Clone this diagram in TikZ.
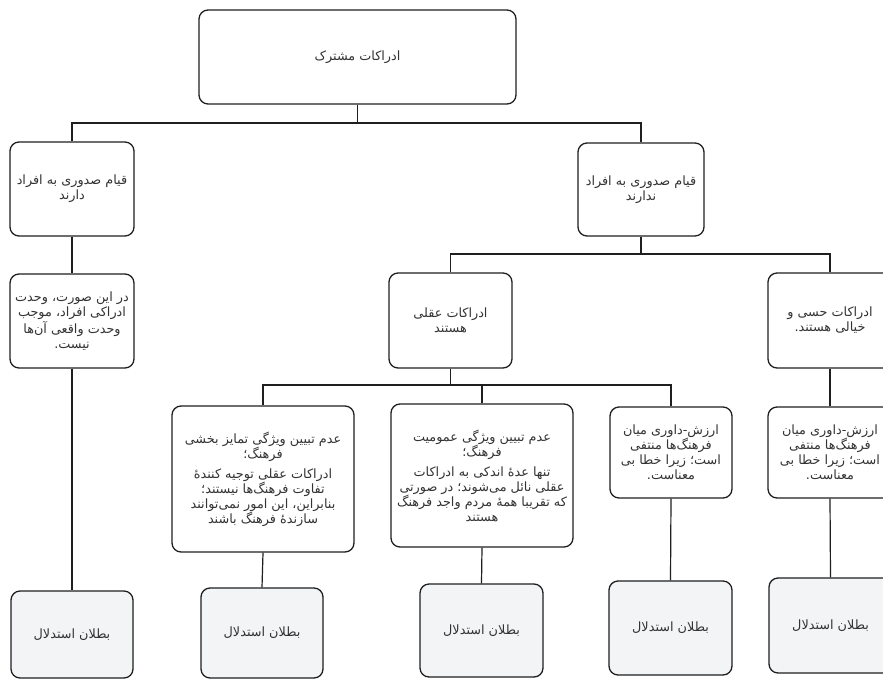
\documentclass[tikz,border=0pt]{standalone}
\usepackage{fontspec}
\TeXXeTstate=1
\newfontfamily\fa[Script=Arabic]{DejaVu Sans}
\newcommand\rl[1]{\beginR#1\endR}
\definecolor{bord}{HTML}{1F1F1F}
\definecolor{txt}{HTML}{333333}
\definecolor{gfill}{HTML}{F3F4F6}
\begin{document}
\begin{tikzpicture}[x=1pt,y=-1pt,
  box/.style={draw=bord, line width=1.3pt, rounded corners=9pt, fill=white,
    align=center, inner sep=0pt, text=txt,
    font=\fa\fontsize{12.8}{15}\selectfont},
  gbox/.style={box, fill=gfill},
  link/.style={draw=bord, line width=1.2pt}]
\useasboundingbox (0,0) rectangle (883,680);
\fill[white] (0,0) rectangle (883,680);

\node[box, minimum width=317pt, minimum height=94pt] (top) at (357.5,57) {\rl{ادراکات مشترک}};
\node[box, minimum width=124pt, minimum height=94pt] (L1) at (72,189) {\rl{قیام صدوری به افراد}\\\rl{دارند}};
\node[box, minimum width=126pt, minimum height=93pt] (R1) at (641,189.5) {\rl{قیام صدوری به افراد}\\\rl{ندارند}};
\node[box, minimum width=124pt, minimum height=94pt] (L2) at (72,321) {\rl{در این صورت، وحدت}\\\rl{ادراکی افراد، موجب}\\\rl{وحدت واقعی آن‌ها}\\\rl{نیست.}};
\node[box, minimum width=123pt, minimum height=95pt] (M2) at (450.5,320.5) {\rl{ادراکات عقلی}\\\rl{هستند}};
\node[box, minimum width=124pt, minimum height=95pt] (R2) at (830,320.5) {\rl{ادراکات حسی و}\\\rl{خیالی هستند.}};
\node[box, minimum width=182pt, minimum height=146pt] (A) at (263,479) {\rl{عدم تبیین ویژگی تمایز بخشی}\\\rl{فرهنگ؛}\\[5pt]\rl{ادراکات عقلی توجیه کنندهٔ}\\\rl{تفاوت فرهنگ‌ها نیستند؛}\\\rl{بنابراین، این امور نمی‌توانند}\\\rl{سازندهٔ فرهنگ باشند}};
\node[box, minimum width=182pt, minimum height=143pt] (B) at (482,475.5) {\rl{عدم تبیین ویژگی عمومیت}\\\rl{فرهنگ؛}\\[5pt]\rl{تنها عدهٔ اندکی به ادراکات}\\\rl{عقلی نائل می‌شوند؛ در صورتی}\\\rl{که تقریبا همهٔ مردم واجد فرهنگ}\\\rl{هستند}};
\node[box, minimum width=122pt, minimum height=91pt] (C) at (671,452.5) {\rl{ارزش-داوری میان}\\\rl{فرهنگ‌ها منتفی}\\\rl{است؛ زیرا خطا بی}\\\rl{معناست.}};
\node[box, minimum width=124pt, minimum height=91pt] (D) at (830,452.5) {\rl{ارزش-داوری میان}\\\rl{فرهنگ‌ها منتفی}\\\rl{است؛ زیرا خطا بی}\\\rl{معناست.}};

\node[gbox, minimum width=122pt, minimum height=87pt] (b1) at (72,634.5) {\rl{بطلان استدلال}};
\node[gbox, minimum width=122pt, minimum height=90pt] (b2) at (262,633) {\rl{بطلان استدلال}};
\node[gbox, minimum width=123pt, minimum height=93pt] (b3) at (481.5,630.5) {\rl{بطلان استدلال}};
\node[gbox, minimum width=123pt, minimum height=94pt] (b4) at (670.5,628) {\rl{بطلان استدلال}};
\node[gbox, minimum width=123pt, minimum height=95pt] (b5) at (830.5,625.5) {\rl{بطلان استدلال}};

\coordinate (h1) at (0,123);
\coordinate (h2) at (0,254);
\coordinate (h3) at (0,385);

\draw[link] (top.south) -- (top.south |- h1);
\draw[link] (L1.north) -- (L1.north |- h1) -- (R1.north |- h1) -- (R1.north);
\draw[link] (L1.south) -- (L2.north);
\draw[link] (L2.south) -- (b1.north);
\draw[link] (R1.south) -- (R1.south |- h2);
\draw[link] (M2.north) -- (M2.north |- h2) -- (R2.north |- h2) -- (R2.north);
\draw[link] (R2.south) -- (D.north);
\draw[link] (D.south) -- (b5.north);
\draw[link] (M2.south) -- (M2.south |- h3);
\draw[link] (A.north) -- (A.north |- h3) -- (C.north |- h3) -- (C.north);
\draw[link] (B.north) -- (B.north |- h3);
\draw[link] (A.south) -- (b2.north);
\draw[link] (B.south) -- (b3.north);
\draw[link] (C.south) -- (b4.north);
\end{tikzpicture}
\end{document}
